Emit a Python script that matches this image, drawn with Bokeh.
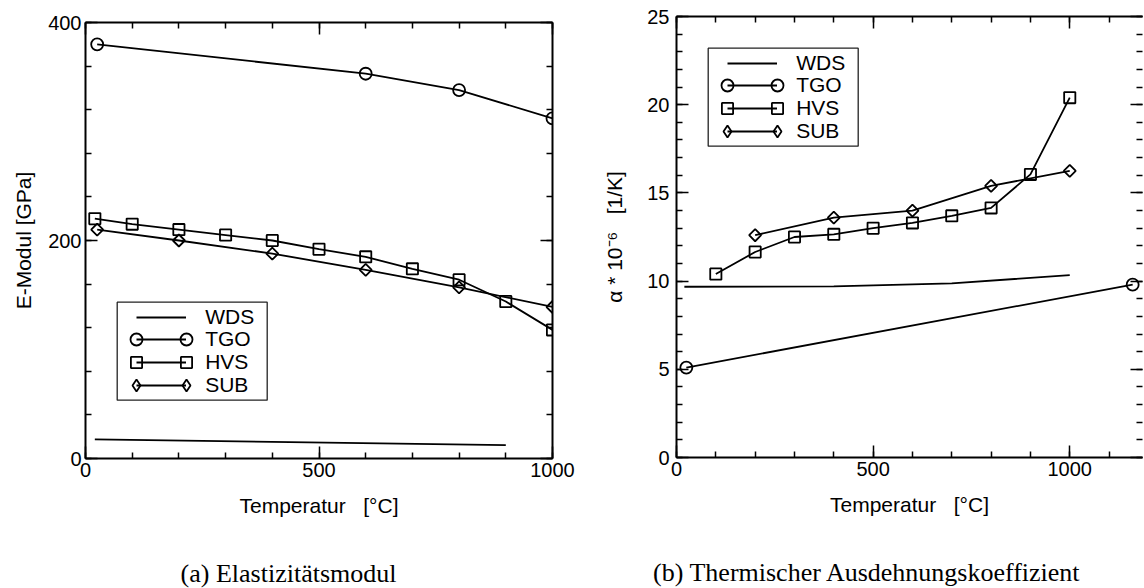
import math
from bokeh.plotting import figure
from bokeh.models import (Range1d, LinearAxis, SingleIntervalTicker, Legend, LegendItem,
                          BoxAnnotation, Title, CustomJSTickFormatter)
from bokeh.layouts import row
from bokeh.embed import file_html
from bokeh.resources import INLINE

# ---------------- data: (a) Elastizitaetsmodul [GPa] ----------------
e_wds_t = [20, 900]
e_wds_v = [17.5, 12.2]
e_tgo_t = [25, 600, 800, 1000]
e_tgo_v = [380, 353, 338, 312]
e_hvs_t = [20, 100, 200, 300, 400, 500, 600, 700, 800, 900, 1000]
e_hvs_v = [220, 215, 210, 205, 200, 192, 185, 174, 164, 144, 118]
e_sub_t = [25, 200, 400, 600, 800, 1000]
e_sub_v = [210, 200, 188, 173, 157, 139]

# ---------------- data: (b) alpha * 1e-6 [1/K] ----------------
a_wds_t = [20, 400, 700, 1000]
a_wds_v = [9.68, 9.70, 9.87, 10.34]
a_tgo_t = [25, 1160]
a_tgo_v = [5.1, 9.8]
a_hvs_t = [100, 200, 300, 400, 500, 600, 700, 800, 900, 1000]
a_hvs_v = [10.4, 11.65, 12.5, 12.65, 13.0, 13.3, 13.7, 14.15, 16.05, 20.4]
a_sub_t = [200, 400, 600, 800, 1000]
a_sub_v = [12.6, 13.6, 14.0, 15.4, 16.25]

series_labels = ["WDS", "TGO", "HVS", "SUB"]
x_label = "Temperatur\u00a0\u00a0 [°C]"
y_label_a = "E-Modul [GPa]"
y_label_b = "α * 10⁻⁶\u00a0\u00a0 [1/K]"
caption_a = "(a) Elastizitätsmodul"
caption_b = "(b) Thermischer Ausdehnungskoeffizient"

FONT = "Liberation Sans"
SERIF = "Liberation Serif"

# marker styles: (plot marker, size, angle, legend marker, legend box)
MARKERS = [None,
           ("circle", 12, 0.0, "circle", 30),
           ("square", 11.2, 0.0, "square", 28),
           ("square", 8.5, math.pi / 4, "diamond", 30)]


def style_axis(ax, labels=True, tick_standoff=4, label_standoff=10, show_line=True):
    ax.axis_line_color = "black" if show_line else None
    ax.axis_line_width = 2
    ax.major_tick_in = 12
    ax.major_tick_out = 0
    ax.minor_tick_in = 6
    ax.minor_tick_out = 0
    ax.major_tick_line_color = "black"
    ax.major_tick_line_width = 1.5
    ax.minor_tick_line_color = "black"
    ax.minor_tick_line_width = 1.5
    if labels:
        ax.major_label_text_font = FONT
        ax.major_label_text_font_size = "20px"
        ax.major_label_text_color = "black"
        ax.major_label_standoff = tick_standoff
        ax.axis_label_text_font = FONT
        ax.axis_label_text_font_size = "21px"
        ax.axis_label_text_font_style = "normal"
        ax.axis_label_text_color = "black"
        ax.axis_label_standoff = label_standoff
    else:
        ax.formatter = CustomJSTickFormatter(code="return ''")
        ax.major_label_text_font_size = "0px"
        ax.major_label_standoff = 0


def single_legend(p, renderers, label, x, y, gw, gh, text_size="21px", standoff=19):
    lg = Legend(items=[LegendItem(label=label, renderers=renderers)],
                location=(x, y), glyph_width=gw, glyph_height=gh,
                label_height=10, label_width=10, label_standoff=standoff,
                padding=0, margin=0, spacing=0,
                border_line_color=None, background_fill_alpha=0,
                label_text_font=FONT, label_text_font_size=text_size,
                label_text_color="black")
    p.add_layout(lg)


def make_panel(data, x_end, y_end, y_step, y_label, caption, geo):
    p = figure(frame_width=geo["fw"], frame_height=geo["fh"],
               x_range=Range1d(0, x_end), y_range=Range1d(0, y_end),
               output_backend="svg", toolbar_location=None,
               x_axis_location=None, y_axis_location=None,
               min_border_left=geo["bl"], min_border_right=geo["br"],
               min_border_top=geo["bt"], min_border_bottom=geo["bb"],
               outline_line_color=None, background_fill_color="white",
               border_fill_color="white")
    try:
        p.frame_align = False
    except Exception:
        pass
    p.xgrid.visible = False
    p.ygrid.visible = False
    # a range far outside the frame, used only for legend-only symbols
    p.extra_x_ranges = {"legend_only": Range1d(-3000, -2000)}

    bottom = LinearAxis(ticker=SingleIntervalTicker(interval=500, num_minor_ticks=5),
                        axis_label=x_label)
    style_axis(bottom, True, geo["xts"], geo["xls"])
    left = LinearAxis(ticker=SingleIntervalTicker(interval=y_step, num_minor_ticks=5),
                      axis_label=y_label)
    style_axis(left, True, geo["yts"], geo["yls"])
    top = LinearAxis(ticker=SingleIntervalTicker(interval=500, num_minor_ticks=5))
    style_axis(top, False)
    right = LinearAxis(ticker=SingleIntervalTicker(interval=y_step, num_minor_ticks=5))
    style_axis(right, False, show_line=geo["rline"])
    p.add_layout(bottom, "below")
    p.add_layout(left, "left")
    p.add_layout(top, "above")
    p.add_layout(right, "right")

    # spacer + caption below the x axis
    p.add_layout(Title(text=" ", text_font_size="1px", standoff=geo["gap"]), "below")
    p.add_layout(Title(text=caption, align="right", offset=geo["cap_off"], standoff=0,
                       vertical_align="bottom", text_font=SERIF, text_font_size="26px",
                       text_font_style="normal", text_color="black"), "below")

    lines, leg_scats = [], []
    for (t, v), mk in zip(data, MARKERS):
        ln = p.line(t, v, line_color="black", line_width=1.8)
        lines.append(ln)
        if mk:
            m, s, a, lm, _ = mk
            sc = p.scatter(t, v, marker=m, size=s, angle=a, fill_color=None,
                           line_color="black", line_width=1.8)
            if lm != m:
                # symbol for the legend only; its points fall outside the frame
                sc = p.scatter(t, v, marker=lm, size=s, fill_color=None,
                               line_color="black", line_width=1.8,
                               x_range_name="legend_only")
            leg_scats.append(sc)
        else:
            leg_scats.append(None)

    # legend box
    bx, btop = geo["leg"]
    box = BoxAnnotation(left=bx, right=bx + 150, top=btop, bottom=btop - 98,
                        left_units="screen", right_units="screen",
                        top_units="screen", bottom_units="screen",
                        fill_alpha=0, line_color="#222222", line_alpha=1, line_width=1.3)
    p.add_layout(box)
    lx = bx + 19.5
    for i, lab in enumerate(series_labels):
        cy = btop - 15 - 22.75 * i
        single_legend(p, [lines[i]], lab, lx, cy - 15, 50, 30)
        mk = MARKERS[i]
        if mk:
            g = mk[4]
            for cx in (lx, lx + 50):
                single_legend(p, [leg_scats[i]], " ", cx - g / 2, cy - g / 2, g, g,
                              text_size="1px", standoff=0)
    return p


geo_a = dict(fw=467, fh=436, bl=85, br=28, bt=22, bb=130,
             xts=4, xls=14, yts=4, yls=10, rline=True,
             leg=(31.7, 156.3), gap=34, cap_off=156)
geo_b = dict(fw=466, fh=441, bl=96, br=2, bt=16, bb=131,
             xts=4, xls=14, yts=7, yls=18, rline=False,
             leg=(31.7, 409.3), gap=34, cap_off=61)

pa = make_panel([(e_wds_t, e_wds_v), (e_tgo_t, e_tgo_v), (e_hvs_t, e_hvs_v), (e_sub_t, e_sub_v)],
                1000, 400, 200, y_label_a, caption_a, geo_a)
pb = make_panel([(a_wds_t, a_wds_v), (a_tgo_t, a_tgo_v), (a_hvs_t, a_hvs_v), (a_sub_t, a_sub_v)],
                1185, 25, 5, y_label_b, caption_b, geo_b)

layout = row(pa, pb)
open("out.html", "w").write(file_html(layout, INLINE))
